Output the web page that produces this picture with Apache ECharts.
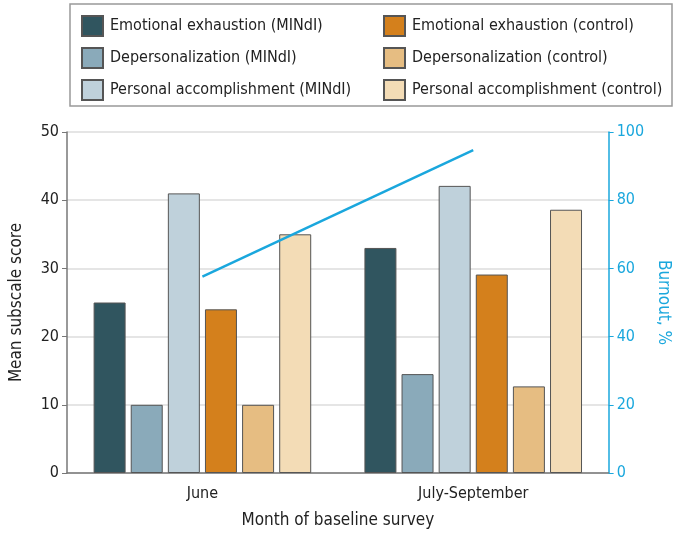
<!DOCTYPE html>
<html>
<head>
<meta charset="utf-8">
<script src="https://cdn.jsdelivr.net/npm/echarts@6/dist/echarts.min.js"></script>
<style>
  html, body { margin: 0; padding: 0; background: #fff; }
  #chart { width: 680px; height: 534px; }
</style>
</head>
<body>
<div id="chart"></div>
<script>
// data
const months = ['June', 'July-September']
const eeMindi = [25, 33]
const dpMindi = [10, 14.5]
const paMindi = [41, 42.1]
const eeControl = [24, 29.1]
const dpControl = [10, 12.7]
const paControl = [35, 38.6]
const burnout = [57.6, 94.7]
const leftTicks = [0, 10, 20, 30, 40, 50]
const rightTicks = [0, 20, 40, 60, 80, 100]

const FONT = '"DejaVu Sans Condensed", "Liberation Sans Narrow", "Noto Sans", sans-serif'
const BLUE = '#1aa7dd'
const TXT = '#222'

const chart = echarts.init(document.getElementById('chart'))

const barSeries = (name, data, color) => ({
  name: name,
  type: 'bar',
  data: data,
  barWidth: 32,
  barGap: '16%',
  itemStyle: { color: color, borderColor: '#555', borderWidth: 1 }
})

const legendCommon = {
  orient: 'vertical',
  top: 10,
  itemWidth: 21,
  itemHeight: 20,
  itemGap: 10,
  icon: 'rect',
  textStyle: { fontFamily: FONT, fontSize: 16, color: TXT, padding: [0, 0, 0, 2] }
}

const option = {
  animation: false,
  textStyle: { fontFamily: FONT },
  graphic: [{
    type: 'rect',
    shape: { x: 70, y: 4, width: 602, height: 102 },
    style: { fill: 'none', stroke: '#999', lineWidth: 1.5 }
  }],
  legend: [
    Object.assign({}, legendCommon, {
      left: 76,
      data: ['Emotional exhaustion (MINdI)', 'Depersonalization (MINdI)', 'Personal accomplishment (MINdI)']
    }),
    Object.assign({}, legendCommon, {
      left: 378,
      data: ['Emotional exhaustion (control)', 'Depersonalization (control)', 'Personal accomplishment (control)']
    })
  ],
  grid: { left: 63, right: 67, top: 132, bottom: 61 },
  xAxis: {
    type: 'category',
    data: months,
    name: 'Month of baseline survey',
    nameLocation: 'middle',
    nameGap: 39,
    nameTextStyle: { fontSize: 17, color: TXT },
    axisTick: { show: false },
    axisLine: { lineStyle: { color: '#777', width: 1.5 } },
    axisLabel: { fontSize: 16, color: TXT, margin: 13 }
  },
  yAxis: [{
    type: 'value',
    min: leftTicks[0],
    max: leftTicks[leftTicks.length - 1],
    interval: 10,
    name: 'Mean subscale score',
    nameLocation: 'middle',
    nameGap: 42,
    nameTextStyle: { fontSize: 17, color: TXT },
    axisLine: { show: true, lineStyle: { color: '#777', width: 1.5 } },
    axisTick: { show: true, length: 5, lineStyle: { color: '#777' } },
    axisLabel: { fontSize: 16, color: TXT, margin: 8 },
    splitLine: { lineStyle: { color: '#ddd', width: 1.5 } }
  }, {
    type: 'value',
    min: rightTicks[0],
    max: rightTicks[rightTicks.length - 1],
    interval: 20,
    position: 'right',
    name: 'Burnout, %',
    nameLocation: 'middle',
    nameGap: 40,
    nameRotate: -90,
    nameTextStyle: { fontSize: 17, color: BLUE },
    axisLine: { show: true, lineStyle: { color: BLUE, width: 1.5 } },
    axisTick: { show: true, length: 5, lineStyle: { color: BLUE } },
    axisLabel: { fontSize: 16, color: BLUE, margin: 8 },
    splitLine: { show: false }
  }],
  series: [
    barSeries('Emotional exhaustion (MINdI)', eeMindi, '#30555f'),
    barSeries('Depersonalization (MINdI)', dpMindi, '#8aaaba'),
    barSeries('Personal accomplishment (MINdI)', paMindi, '#bfd1db'),
    barSeries('Emotional exhaustion (control)', eeControl, '#d4801c'),
    barSeries('Depersonalization (control)', dpControl, '#e6bd82'),
    barSeries('Personal accomplishment (control)', paControl, '#f3dcb6'),
    {
      name: 'Burnout',
      type: 'line',
      yAxisIndex: 1,
      data: burnout,
      showSymbol: false,
      lineStyle: { color: BLUE, width: 2.5 },
      z: 5
    }
  ]
}

chart.setOption(option)
</script>
</body>
</html>
